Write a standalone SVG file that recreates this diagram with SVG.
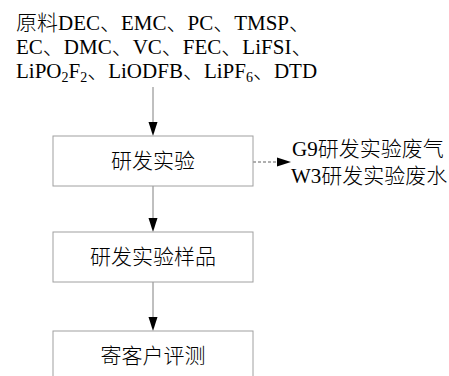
<svg xmlns="http://www.w3.org/2000/svg" width="449" height="376" viewBox="0 0 449 376">
<style>
text{font-family:"Liberation Serif","Noto Sans CJK SC",serif;font-size:21px;fill:#000;font-weight:300}
.box{fill:#fff;stroke:#a0a0a0;stroke-width:1}
.ln{stroke:#808080;stroke-width:1;fill:none}
.dash{stroke:#606060;stroke-width:1;fill:none;stroke-dasharray:3 2}
.mid{text-anchor:middle}
.sub{font-size:14px}
</style>
<rect width="449" height="376" fill="#fff"/>
<g id="connectors">
<line class="ln" x1="153" y1="87" x2="153" y2="122"/>
<polygon points="148.5,122 157.5,122 153,136"/>
<line class="ln" x1="153" y1="186" x2="153" y2="218"/>
<polygon points="148.5,218 157.5,218 153,232"/>
<line class="ln" x1="153" y1="282" x2="153" y2="317"/>
<polygon points="148.5,317 157.5,317 153,331"/>
<line class="dash" x1="253" y1="162" x2="277" y2="162"/>
<polygon points="277,157.5 277,166.5 291,162"/>
</g>
<g id="raw">
<text x="16" y="30">原料DEC、EMC、PC、TMSP、</text>
<text x="16" y="54">EC、DMC、VC、FEC、LiFSI、</text>
<text x="16" y="78">LiPO<tspan class="sub" dy="4">2</tspan><tspan dy="-4">F</tspan><tspan class="sub" dy="4">2</tspan><tspan dy="-4">、LiODFB、LiPF</tspan><tspan class="sub" dy="4">6</tspan><tspan dy="-4">、DTD</tspan></text>
</g>
<g id="n1">
<rect class="box" x="53" y="136" width="200" height="50"/>
<text class="mid" x="153" y="168">研发实验</text>
</g>
<g id="out">
<text x="292" y="156">G9研发实验废气</text>
<text x="291" y="183">W3研发实验废水</text>
</g>
<g id="n2">
<rect class="box" x="53" y="232" width="200" height="50"/>
<text class="mid" x="153" y="264">研发实验样品</text>
</g>
<g id="n3">
<rect class="box" x="53" y="331" width="200" height="50"/>
<text class="mid" x="153" y="363">寄客户评测</text>
</g>
</svg>
